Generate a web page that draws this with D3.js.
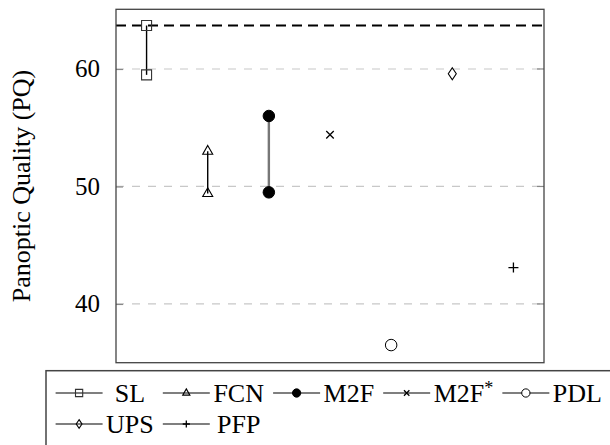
<!DOCTYPE html>
<html>
<head>
<script src="https://cdn.jsdelivr.net/npm/d3@7/dist/d3.min.js"></script>
<style>
  body { margin: 0; background: #fff; }
  text { font-family: "Liberation Serif", "Times New Roman", serif; fill: #000; }
</style>
</head>
<body>
<script>
// methods, one column each
var methods = ["SL", "FCN", "M2F", "M2F*", "PDL", "UPS", "PFP"];
var markers = ["square", "triangle", "dot", "times", "circle", "diamond", "plus"];
// PQ values (low / high end of each range)
var pqLow  = [59.5, 49.4, 49.5, 54.4, 36.5, 59.6, 43.1];
var pqHigh = [63.7, 53.0, 56.0, null, null, null, null];
var refLine = 63.7; // dashed black line
var yTicks = [40, 50, 60];
var legendRows = [["SL", "FCN", "M2F", "M2F*", "PDL"], ["UPS", "PFP"]];

var width = 610, height = 445;
var plotL = 116, plotR = 544, plotT = 9.3, plotB = 362.7;

var svg = d3.select("body").append("svg")
  .attr("width", width)
  .attr("height", height);

var x = d3.scaleLinear().domain([0.5, methods.length + 0.5]).range([plotL, plotR]);
var y = d3.scaleLinear().domain([35.0, 65.08]).range([plotB, plotT]);

// grid lines
svg.append("g").selectAll("line")
  .data(yTicks).enter().append("line")
  .attr("x1", plotL).attr("x2", plotR)
  .attr("y1", function(d) { return y(d); })
  .attr("y2", function(d) { return y(d); })
  .attr("stroke", "#c8c8c8")
  .attr("stroke-width", 1.2)
  .attr("stroke-dasharray", "8,8");

// axis on left, ticks drawn inside
var yAxis = svg.append("g")
  .attr("transform", "translate(" + plotL + ",0)")
  .call(d3.axisLeft(y).tickValues(yTicks).tickSize(-7).tickPadding(16));
yAxis.select(".domain").remove();
yAxis.selectAll(".tick line").attr("stroke", "#888").attr("stroke-width", 1.2);
yAxis.selectAll(".tick text")
  .attr("font-family", "Liberation Serif, serif")
  .attr("font-size", 25)
  .attr("fill", "#000");

// ticks on the right side too
svg.append("g").selectAll("line")
  .data(yTicks).enter().append("line")
  .attr("x1", plotR - 7).attr("x2", plotR)
  .attr("y1", function(d) { return y(d); })
  .attr("y2", function(d) { return y(d); })
  .attr("stroke", "#888").attr("stroke-width", 1.2);

// reference dashed line
svg.append("line")
  .attr("x1", plotL).attr("x2", plotR)
  .attr("y1", y(refLine)).attr("y2", y(refLine))
  .attr("stroke", "#000")
  .attr("stroke-width", 2)
  .attr("stroke-dasharray", "10,6");

// frame
svg.append("rect")
  .attr("x", plotL).attr("y", plotT)
  .attr("width", plotR - plotL).attr("height", plotB - plotT)
  .attr("fill", "none")
  .attr("stroke", "#444")
  .attr("stroke-width", 1.3);

// y label
svg.append("text")
  .attr("transform", "translate(22," + ((plotT + plotB) / 2) + ") rotate(-90)")
  .attr("text-anchor", "middle")
  .attr("dy", "0.32em")
  .attr("font-size", 26)
  .text("Panoptic Quality (PQ)");

// marker paths
function markerPath(kind, s) {
  if (kind == "square") return "M" + (-s) + "," + (-s) + "h" + 2 * s + "v" + 2 * s + "h" + (-2 * s) + "Z";
  if (kind == "triangle") return "M0," + (-s * 1.15) + "L" + (s) + "," + (s * 0.6) + "L" + (-s) + "," + (s * 0.6) + "Z";
  if (kind == "diamond") return "M0," + (-s * 1.2) + "L" + (s * 0.8) + ",0L0," + (s * 1.2) + "L" + (-s * 0.8) + ",0Z";
  if (kind == "times") return "M" + (-s * 0.75) + "," + (-s * 0.75) + "L" + (s * 0.75) + "," + (s * 0.75) +
    "M" + (-s * 0.75) + "," + (s * 0.75) + "L" + (s * 0.75) + "," + (-s * 0.75);
  if (kind == "plus") return "M" + (-s) + ",0H" + s + "M0," + (-s) + "V" + s;
  return null;
}

function drawMarker(g, kind, cx, cy, s) {
  if (kind == "dot" || kind == "circle") {
    g.append("circle")
      .attr("cx", cx).attr("cy", cy).attr("r", s * 1.15)
      .attr("fill", kind == "dot" ? "#000" : "#fff")
      .attr("stroke", "#000").attr("stroke-width", 1);
  } else {
    g.append("path")
      .attr("transform", "translate(" + cx + "," + cy + ")")
      .attr("d", markerPath(kind, s))
      .attr("fill", "none")
      .attr("stroke", kind == "square" ? "#333" : "#000")
      .attr("stroke-width", (kind == "times" || kind == "plus") ? 1.3 : 1.1);
  }
}

// range lines
var marks = svg.append("g");
methods.forEach(function(m, i) {
  if (pqHigh[i] != null) {
    marks.append("line")
      .attr("x1", x(i + 1)).attr("x2", x(i + 1))
      .attr("y1", y(pqLow[i])).attr("y2", y(pqHigh[i]))
      .attr("stroke", m == "M2F" ? "#777" : "#000")
      .attr("stroke-width", m == "M2F" ? 2.4 : 1.4);
  }
});
methods.forEach(function(m, i) {
  drawMarker(marks, markers[i], x(i + 1), y(pqLow[i]), 5);
  if (pqHigh[i] != null) drawMarker(marks, markers[i], x(i + 1), y(pqHigh[i]), 5);
});

// legend
var legend = svg.append("g");
legend.append("rect")
  .attr("x", 46).attr("y", 370.7)
  .attr("width", 600).attr("height", 120)
  .attr("fill", "#fff")
  .attr("stroke", "#444")
  .attr("stroke-width", 1.5);

function legendLabel(sel, name) {
  if (name.slice(-1) == "*") {
    sel.text(name.slice(0, -1));
    sel.append("tspan").attr("dy", "-0.45em").attr("font-size", "0.7em").text("*");
  } else {
    sel.text(name);
  }
}

// measure text widths per column
var colW = [];
legendRows.forEach(function(row) {
  row.forEach(function(name, c) {
    var t = svg.append("text").attr("font-size", 26);
    legendLabel(t, name);
    var w = t.node().getBBox().width;
    t.remove();
    colW[c] = Math.max(colW[c] || 0, w);
  });
});

var lineW = 47, rowY = [393, 424];
legendRows.forEach(function(row, r) {
  var cx = 55.6;
  row.forEach(function(name, c) {
    var i = methods.indexOf(name);
    var ly = rowY[r];
    legend.append("line")
      .attr("x1", cx).attr("x2", cx + lineW)
      .attr("y1", ly).attr("y2", ly)
      .attr("stroke", "#000").attr("stroke-width", 1.1);
    drawMarker(legend, markers[i], cx + lineW / 2, ly, 3.6);
    var t = legend.append("text")
      .attr("x", cx + lineW + 3.5 + colW[c] / 2)
      .attr("y", ly + 9)
      .attr("text-anchor", "middle")
      .attr("font-size", 26);
    legendLabel(t, name);
    cx += lineW + 3.5 + colW[c] + 9;
  });
});
</script>
</body>
</html>
